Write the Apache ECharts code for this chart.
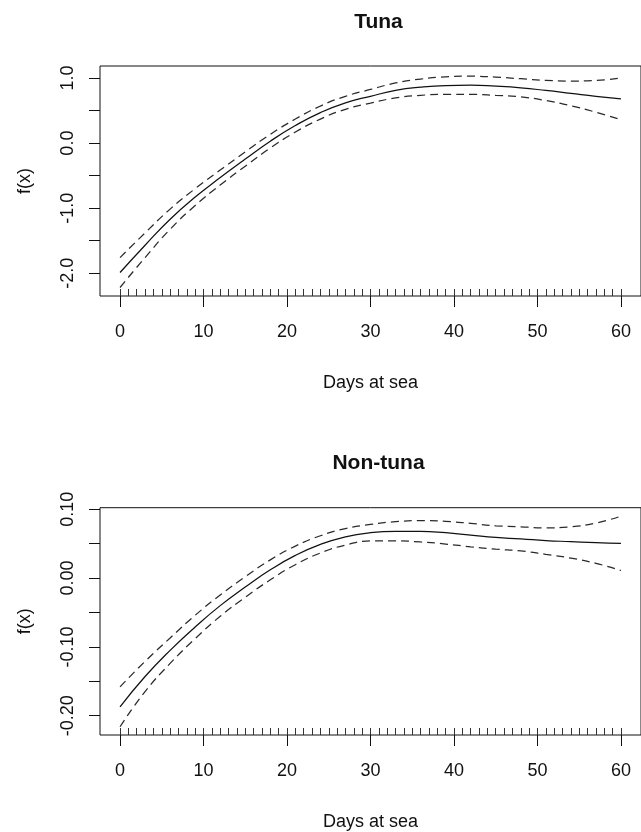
<!DOCTYPE html>
<html>
<head>
<meta charset="utf-8">
<script src="https://cdn.jsdelivr.net/npm/echarts@6/dist/echarts.min.js"></script>
<style>
  html, body { margin: 0; padding: 0; background: #ffffff; }
  #chart { width: 641px; height: 832px; }
</style>
</head>
<body>
<div id="chart"></div>
<script>
// Smooth term for days at sea: fitted curve with upper/lower confidence bands
const days = [0, 3, 6, 9, 12, 15, 18, 21, 24, 27, 30, 33, 36, 39, 42, 45, 48, 51, 54, 57, 60];

const tunaFit   = [-1.99, -1.57, -1.17, -0.83, -0.53, -0.245, 0.03, 0.27, 0.47, 0.62, 0.72, 0.81, 0.86, 0.885, 0.89, 0.875, 0.85, 0.81, 0.765, 0.72, 0.68];
const tunaUpper = [-1.76, -1.38, -1.015, -0.70, -0.415, -0.135, 0.135, 0.37, 0.57, 0.72, 0.825, 0.925, 0.985, 1.02, 1.03, 1.015, 0.99, 0.965, 0.955, 0.965, 1.00];
const tunaLower = [-2.22, -1.76, -1.325, -0.96, -0.645, -0.355, -0.075, 0.17, 0.37, 0.52, 0.615, 0.695, 0.735, 0.75, 0.75, 0.735, 0.71, 0.655, 0.575, 0.475, 0.36];

const nonTunaFit   = [-0.187, -0.143, -0.105, -0.071, -0.040, -0.013, 0.012, 0.033, 0.049, 0.060, 0.066, 0.068, 0.068, 0.066, 0.0625, 0.059, 0.057, 0.0545, 0.053, 0.0515, 0.0505];
const nonTunaUpper = [-0.158, -0.121, -0.087, -0.054, -0.0245, 0.002, 0.0265, 0.0465, 0.0615, 0.072, 0.078, 0.082, 0.0835, 0.0825, 0.0795, 0.076, 0.0745, 0.073, 0.0745, 0.080, 0.09];
const nonTunaLower = [-0.216, -0.165, -0.124, -0.088, -0.0555, -0.028, -0.0025, 0.0195, 0.0365, 0.048, 0.054, 0.054, 0.0525, 0.0495, 0.0455, 0.042, 0.0395, 0.0345, 0.029, 0.0215, 0.011];

// Observed days (rug marks along the x axis)
const rugDays = [0, 1, 2, 3, 4, 5, 6, 7, 8, 9, 10, 11, 12, 13, 14, 15, 16, 17, 18, 19, 20,
  21, 22, 23, 24, 25, 26, 27, 28, 29, 30, 31, 32, 33, 34, 35, 36, 37, 38, 39, 40,
  41, 42, 43, 44, 45, 46, 47, 48, 49, 50, 51, 52, 53, 54, 55, 56, 57, 58, 59, 60];

const xTicks = [0, 10, 20, 30, 40, 50, 60];
const tunaYTicks = [-2, -1.5, -1, -0.5, 0, 0.5, 1];
const tunaYLabels = [-2, -1, 0, 1];
const nonTunaYTicks = [-0.2, -0.15, -0.1, -0.05, 0, 0.05, 0.1];
const nonTunaYLabels = [-0.2, -0.1, 0, 0.1];

const panelTitles = ['Tuna', 'Non-tuna'];
const xName = 'Days at sea';
const yName = 'f(x)';

const FONT = "'Liberation Sans', Arial, Helvetica, sans-serif";
const INK = '#111111';

const pair = (xs, ys) => xs.map((x, i) => [x, ys[i]]);

const X_MIN = -2.4, X_MAX = 62.4;
const gridLeft = 100, gridWidth = 547;
const grids = [
  { left: gridLeft, top: 66, width: gridWidth, height: 230 },
  { left: gridLeft, top: 507.7, width: gridWidth, height: 228.3 }
];

function mainX(gridIndex) {
  return {
    type: 'value', gridIndex, position: 'bottom', min: X_MIN, max: X_MAX,
    name: xName, nameLocation: 'middle', nameGap: 78,
    nameTextStyle: { fontFamily: FONT, fontSize: 18, color: INK },
    axisLine: { show: false, onZero: false },
    axisTick: { show: true, inside: false, length: 11, customValues: xTicks, lineStyle: { color: INK, width: 1 } },
    axisLabel: { show: true, customValues: xTicks, margin: 27, fontFamily: FONT, fontSize: 18, color: INK },
    splitLine: { show: false }
  };
}
function rugX(gridIndex) {
  return {
    type: 'value', gridIndex, position: 'bottom', min: X_MIN, max: X_MAX,
    axisLine: { show: false, onZero: false },
    axisTick: { show: true, inside: true, length: 7, customValues: rugDays, lineStyle: { color: '#333333', width: 1 } },
    axisLabel: { show: false },
    splitLine: { show: false }
  };
}
function yAxis(gridIndex, min, max, ticks, labels, digits) {
  return {
    type: 'value', gridIndex, position: 'left', min, max,
    name: yName, nameLocation: 'middle', nameGap: 66, nameRotate: 90,
    nameTextStyle: { fontFamily: FONT, fontSize: 18, color: INK },
    axisLine: { show: false, onZero: false },
    axisTick: { show: true, inside: false, length: 11, customValues: ticks, lineStyle: { color: INK, width: 1 } },
    axisLabel: { show: true, customValues: labels, rotate: 90, margin: 23, fontFamily: FONT, fontSize: 18, color: INK,
      formatter: v => Number(v).toFixed(digits) },
    splitLine: { show: false }
  };
}
function curve(name, xAxisIndex, yAxisIndex, ys, dashed) {
  return {
    name, type: 'line', xAxisIndex, yAxisIndex, data: pair(days, ys),
    smooth: 0.5, symbol: 'none', silent: true,
    lineStyle: { color: dashed ? '#2a2a2a' : INK, width: 1.25, type: dashed ? [8, 5] : 'solid' }
  };
}

const chart = echarts.init(document.getElementById('chart'), null, { renderer: 'canvas' });
chart.setOption({
  animation: false,
  backgroundColor: '#ffffff',
  title: panelTitles.map((t, i) => ({
    text: t, left: gridLeft + gridWidth / 2, textAlign: 'center', top: i === 0 ? 7 : 448,
    textStyle: { fontFamily: FONT, fontSize: 21, fontWeight: 'bold', color: INK }
  })),
  grid: grids.map(g => Object.assign({ show: true, borderColor: INK, borderWidth: 1, backgroundColor: 'transparent', containLabel: false }, g)),
  xAxis: [mainX(0), rugX(0), mainX(1), rugX(1)],
  yAxis: [
    yAxis(0, -2.351, 1.186, tunaYTicks, tunaYLabels, 1),
    yAxis(1, -0.228, 0.1023, nonTunaYTicks, nonTunaYLabels, 2)
  ],
  series: [
    curve('Tuna fit', 0, 0, tunaFit, false),
    curve('Tuna upper', 0, 0, tunaUpper, true),
    curve('Tuna lower', 0, 0, tunaLower, true),
    curve('Non-tuna fit', 2, 1, nonTunaFit, false),
    curve('Non-tuna upper', 2, 1, nonTunaUpper, true),
    curve('Non-tuna lower', 2, 1, nonTunaLower, true)
  ]
});
</script>
</body>
</html>
